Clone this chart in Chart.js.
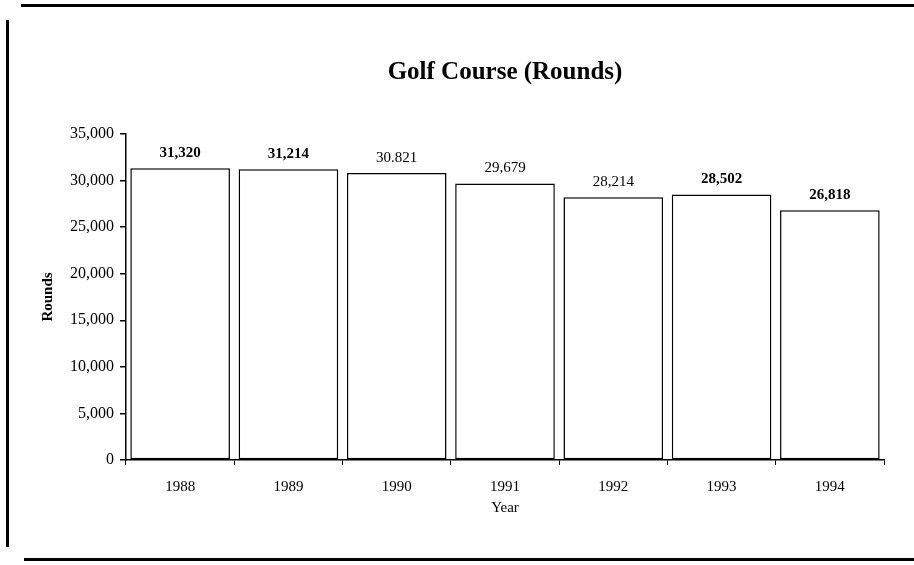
<!DOCTYPE html>
<html>
<head>
<meta charset="utf-8">
<script src="https://cdn.jsdelivr.net/npm/chart.js@4"></script>
<style>
  body { margin: 0; background: #fff; }
  .wrap { position: relative; width: 914px; height: 565px; }
  .rule { position: absolute; background: #000; }
</style>
</head>
<body>
<div class="wrap">
  <canvas class="myChart" width="914" height="565"></canvas>
  <div class="rule" style="left:21px; top:4px; width:893px; height:3px;"></div>
  <div class="rule" style="left:6px; top:20px; width:3px; height:527px;"></div>
  <div class="rule" style="left:24px; top:558px; width:890px; height:3px;"></div>
</div>
<script>
const years = ["1988", "1989", "1990", "1991", "1992", "1993", "1994"];
const rounds = [31320, 31214, 30821, 29679, 28214, 28502, 26818];
const valueLabels = ["31,320", "31,214", "30.821", "29,679", "28,214", "28,502", "26,818"];
const yTicks = [0, 5000, 10000, 15000, 20000, 25000, 30000, 35000];
const chartTitle = "Golf Course (Rounds)";

const serif = "'Liberation Serif', 'Times New Roman', serif";
const boldLabel = [true, true, false, false, false, true, true];

const myChart = document.querySelector(".myChart");

// value labels over the bars + title centred over the plot area
const barLabels = {
  id: "barLabels",
  afterDraw(chart) {
    const ctx = chart.ctx;
    const meta = chart.getDatasetMeta(0);
    const area = chart.chartArea;
    ctx.save();
    ctx.fillStyle = "#000";
    ctx.textAlign = "center";
    ctx.textBaseline = "middle";
    meta.data.forEach((bar, i) => {
      ctx.font = (boldLabel[i] ? "bold " : "") + "15px " + serif;
      ctx.fillText(valueLabels[i], bar.x, bar.y - 15);
    });
    ctx.font = "bold 25px " + serif;
    ctx.fillText(chartTitle, (area.left + area.right) / 2, 73);
    ctx.restore();
  }
};

new Chart(myChart, {
  type: "bar",
  data: {
    labels: years,
    datasets: [{
      label: "Rounds",
      data: rounds,
      backgroundColor: "#fff",
      borderColor: "#000",
      borderWidth: 1.5,
      borderSkipped: false,
      categoryPercentage: 0.92,
      barPercentage: 1
    }]
  },
  options: {
    responsive: false,
    animation: false,
    layout: { padding: { top: 134, left: 39, right: 30, bottom: 48 } },
    plugins: {
      legend: { display: false },
      tooltip: { enabled: false },
      title: { display: false }
    },
    scales: {
      x: {
        afterFit(s) { s.height = 57; },
        grid: { display: true, drawOnChartArea: false, tickLength: 5, color: "#000", lineWidth: 1 },
        border: { display: true, color: "#000", width: 1.5 },
        ticks: { color: "#000", padding: 13, font: { family: serif, size: 15 } },
        title: { display: true, text: "Year", color: "#000", padding: 0, font: { family: serif, size: 15 } }
      },
      y: {
        min: 0,
        max: 35000,
        afterFit(s) { s.width = 87; },
        afterBuildTicks(s) { s.ticks = yTicks.map(v => ({ value: v })); },
        grid: { display: true, drawOnChartArea: false, tickLength: 6, color: "#000", lineWidth: 1.5 },
        border: { display: true, color: "#000", width: 1.5 },
        ticks: { color: "#000", padding: 6, font: { family: serif, size: 16 } },
        title: { display: true, text: "Rounds", color: "#000", padding: 0, font: { family: serif, size: 15, weight: "bold" } }
      }
    }
  },
  plugins: [barLabels]
});
</script>
</body>
</html>
